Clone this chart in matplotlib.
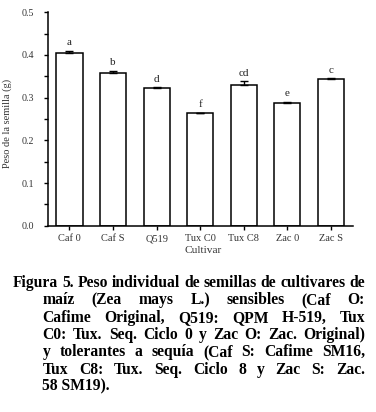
import matplotlib
matplotlib.use("Agg")
import matplotlib.pyplot as plt
from matplotlib.ticker import MultipleLocator

categories = ["Caf 0", "Caf S", "Q519", "Tux C0", "Tux C8", "Zac 0", "Zac S"]
values = [0.404, 0.357, 0.322, 0.263, 0.329, 0.287, 0.343]
errors = [0.005, 0.005, 0.002, 0.002, 0.009, 0.004, 0.002]
letters = ["a", "b", "d", "f", "cd", "e", "c"]
yticks = [0.0, 0.1, 0.2, 0.3, 0.4, 0.5]

caption_lines = [
    "Figura 5. Peso individual de semillas de cultivares de",
    "maíz (Zea mays L.) sensibles (Caf O:",
    "Cafime Original, Q519: QPM H-519, Tux",
    "C0: Tux. Seq. Ciclo 0 y Zac O: Zac. Original)",
    "y tolerantes a sequía (Caf S: Cafime SM16,",
    "Tux C8: Tux. Seq. Ciclo 8 y Zac S: Zac.",
    "58 SM19).",
]

W, H = 376, 412
fig = plt.figure(figsize=(W / 100, H / 100), dpi=100)
serif = ["Liberation Serif", "DejaVu Serif"]
plt.rcParams['font.family'] = serif
txtc = "#333333"

ax_l, ax_r, ax_t, ax_b = 47.7, 352.7, 12.3, 225.7
ax = fig.add_axes([ax_l / W, 1 - ax_b / H, (ax_r - ax_l) / W, (ax_b - ax_t) / H])
x = list(range(len(categories)))
ax.bar(x, values, width=0.6, color="white", edgecolor="black", linewidth=1.1, zorder=2)
ax.errorbar(x, values, yerr=[[0] * len(errors), errors], fmt="none", ecolor="black",
            elinewidth=1.0, capsize=2.8, capthick=1.0, zorder=3)
for xi, v, e, lab in zip(x, values, errors, letters):
    ax.text(xi, v + e + 0.009, lab, ha="center", va="bottom", fontsize=8, color="#222222")

ax.set_xlim(-0.5, 6.5)
ax.set_ylim(0, 0.5)
ax.set_yticks(yticks)
ax.set_yticklabels([f"{t:.1f}" for t in yticks])
ax.yaxis.set_minor_locator(MultipleLocator(0.05))
ax.set_xticks(x)
ax.set_xticklabels(categories)
ax.tick_params(axis="both", which="major", labelsize=7.5, labelcolor=txtc, direction="out", width=1.0)
ax.tick_params(axis="y", which="major", length=2.8, pad=7, labelsize=7.2)
ax.tick_params(axis="y", which="minor", length=2.8, width=1.0)
ax.tick_params(axis="x", which="major", length=3, pad=3)
for s in ["top", "right"]:
    ax.spines[s].set_visible(False)
for s in ["left", "bottom"]:
    ax.spines[s].set_linewidth(1.1)
ax.set_ylabel("Peso de la semilla (g)", fontsize=7.5, color=txtc)
ax.yaxis.set_label_coords((12 - ax_l) / (ax_r - ax_l), (ax_b - 123) / (ax_b - ax_t))
ax.set_xlabel("Cultivar", fontsize=8.2, color=txtc)
ax.xaxis.set_label_coords(0.5 - ((ax_l + ax_r) / 2 - 203) / (ax_r - ax_l), (ax_b - 246) / (ax_b - ax_t))

# Caption (justified)
fig.canvas.draw()
renderer = fig.canvas.get_renderer()
left_first, left_other, right = 12.7, 42.5, 365.0
probe = fig.text(0, 0, caption_lines[0], fontsize=10, fontweight="bold")
wprobe = probe.get_window_extent(renderer).width
probe.remove()
fs = 10 * (right - left_first) / wprobe
y0, dy = 281.0, 17.3
for i, line in enumerate(caption_lines):
    xl = left_first if i == 0 else left_other
    y = y0 + i * dy
    words = line.split(" ")
    if i == len(caption_lines) - 1:
        fig.text(xl / W, 1 - y / H, line, fontsize=fs, fontweight="bold", ha="left", va="center_baseline")
        continue
    objs = []
    widths = []
    for w in words:
        t = fig.text(0, 0, w, fontsize=fs, fontweight="bold", ha="left", va="center_baseline")
        bb = t.get_window_extent(renderer)
        widths.append(bb.width)
        objs.append(t)
    gap = (right - xl - sum(widths)) / max(1, len(words) - 1)
    cx = xl
    for t, wdt in zip(objs, widths):
        t.set_position((cx / W, 1 - y / H))
        cx += wdt + gap

fig.savefig("out.png", dpi=100)
